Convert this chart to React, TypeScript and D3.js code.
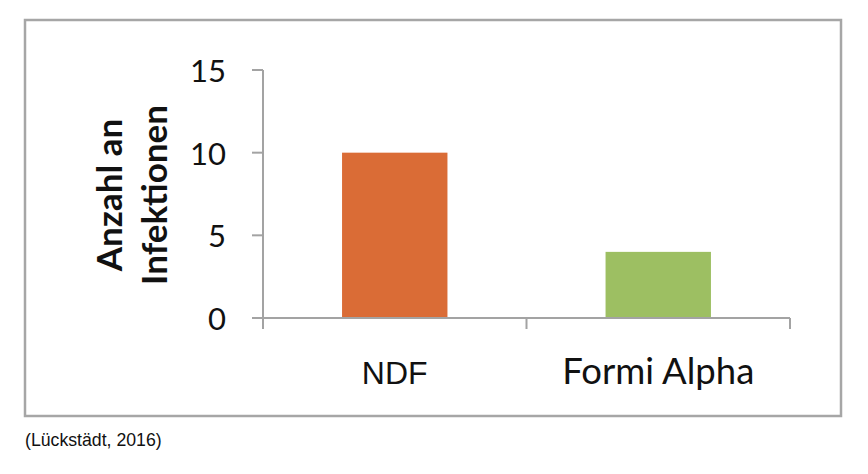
import * as d3 from 'd3';

const categories = ['NDF', 'Formi Alpha'];
const infections = [10, 4];
const barColors = ['#DA6C36', '#9DBF62'];
const yTicks = [0, 5, 10, 15];
const yLabelLines = ['Anzahl an', 'Infektionen'];
const sourceNote = '(Lückstädt, 2016)';

const W = 868;
const H = 474;
const calibriLike = 'Lato, "Open Sans", sans-serif';
const axisColor = '#a3a3a3';

export default function App() {
  const x = d3
    .scaleBand<string>()
    .domain(categories)
    .range([263, 790])
    .paddingInner(0.6)
    .paddingOuter(0.3);

  const y = d3.scaleLinear().domain([0, 15]).range([318, 70]);

  // category boundaries for the x-axis tick marks (Excel style: between categories)
  const step = x.step();
  const xBounds = d3.range(categories.length + 1).map((i) => 263 + i * step);

  return (
    <div style={{ position: 'absolute', left: 0, top: 0 }}>
      <svg width={W} height={H} style={{ display: 'block', background: '#fff' }}>
        {/* outer frame */}
        <rect
          x={25}
          y={20}
          width={816}
          height={396}
          fill="#fff"
          stroke="#a6a6a6"
          strokeWidth={2.5}
        />

        {/* bars */}
        {categories.map((c, i) => (
          <rect
            key={c}
            x={x(c)}
            y={y(infections[i])}
            width={x.bandwidth()}
            height={y(0) - y(infections[i])}
            fill={barColors[i]}
          />
        ))}

        {/* y axis */}
        <line x1={263} x2={263} y1={y(15)} y2={y(0) + 11} stroke={axisColor} strokeWidth={2} />
        {yTicks.map((t) => (
          <g key={t}>
            <line x1={252} x2={263} y1={y(t)} y2={y(t)} stroke={axisColor} strokeWidth={2} />
            <text
              x={226}
              y={y(t) + 12}
              textAnchor="end"
              fontFamily={calibriLike}
              fontSize={31}
              fill="#111"
            >
              {t}
            </text>
          </g>
        ))}

        {/* x axis */}
        <line x1={252} x2={790} y1={y(0)} y2={y(0)} stroke={axisColor} strokeWidth={2} />
        {xBounds.map((bx, i) => (
          <line key={i} x1={bx} x2={bx} y1={y(0)} y2={y(0) + 11} stroke={axisColor} strokeWidth={2} />
        ))}
        {categories.map((c, i) => (
          <text
            key={c}
            x={(x(c) ?? 0) + x.bandwidth() / 2}
            y={384}
            textAnchor="middle"
            fontFamily={i === 0 ? '"Liberation Sans", Arial, sans-serif' : calibriLike}
            fontSize={i === 0 ? 32 : 36.5}
            fill="#111"
          >
            {c}
          </text>
        ))}

        {/* y axis title */}
        <g transform="translate(122,195) rotate(-90)">
          {yLabelLines.map((line, i) => (
            <text
              key={line}
              x={0}
              y={i * 45}
              textAnchor="middle"
              fontFamily={calibriLike}
              fontWeight={700}
              fontSize={35}
              fill="#111"
            >
              {line}
            </text>
          ))}
        </g>

        {/* source */}
        <text
          x={25}
          y={446}
          fontFamily='"Liberation Sans", Arial, sans-serif'
          fontSize={17.7}
          fill="#111"
        >
          {sourceNote}
        </text>
      </svg>
    </div>
  );
}
